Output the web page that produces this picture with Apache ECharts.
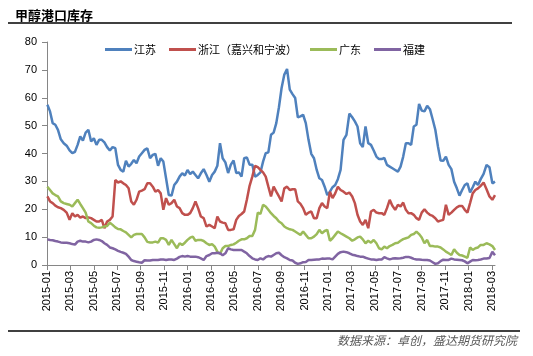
<!DOCTYPE html>
<html>
<head>
<meta charset="utf-8">
<script src="https://cdn.jsdelivr.net/npm/echarts@6/dist/echarts.min.js"></script>
<style>
html,body{margin:0;padding:0;background:#fff;}
#c{width:533px;height:356px;}
</style>
</head>
<body>
<div id="c"></div>
<script>
// Weekly observations, first week ending 2015-01-02
const startDate = '2015-01-02';
const seriesNames = ['江苏', '浙江（嘉兴和宁波）', '广东', '福建'];
const xTickLabels = ['2015-01','2015-03','2015-05','2015-07','2015-09','2015-11','2016-01','2016-03','2016-05','2016-07','2016-09','2016-11','2017-01','2017-03','2017-05','2017-07','2017-09','2017-11','2018-01','2018-03'];
const yTicks = [0,10,20,30,40,50,60,70,80];

const jiangsu = [
57.5,55.1,50.9,50.3,48.5,45.1,43.7,42.8,41.1,40.1,
40.6,43.1,46.1,44.6,47.5,48.5,44.3,45.5,43.1,44.9,
44.9,44.0,42.3,41.1,42.3,41.9,35.9,34.1,33.5,37.4,
35.3,36.3,37.7,36.5,38.9,40.1,41.3,41.9,38.3,39.5,
39.9,35.6,38.3,37.1,31.1,25.1,24.9,28.7,29.9,31.7,
32.9,32.1,34.1,32.6,33.5,32.3,31.1,32.9,34.4,32.3,
29.9,
32.3,33.5,35.6,43.7,38.3,36.8,33.0,36.0,37.5,
33.0,33.2,31.7,38.3,38.6,36.0,36.0,31.7,32.3,33.2,
37.1,40.1,40.4,46.7,47.5,50.9,56.6,63.5,68.3,70.3,
62.9,61.3,59.9,53.0,53.3,53.9,50.9,44.9,39.9,38.3,
34.1,31.1,30.5,28.1,25.1,26.3,27.9,28.7,30.8,34.1,
44.9,46.7,54.3,53.0,51.5,49.7,43.7,42.3,49.7,43.7,
43.1,41.1,38.9,38.0,
38.0,38.4,35.9,35.3,34.7,34.1,
33.5,35.3,38.9,43.7,43.7,43.1,49.7,50.3,57.8,55.4,
55.1,57.1,55.9,52.3,48.5,42.5,37.5,37.4,38.9,35.9,
34.4,29.9,27.5,24.9,26.9,28.7,29.3,26.0,27.9,29.9,
28.7,30.8,32.7,35.9,35.1,29.3,29.9
];
const zhejiang = [
24.6,22.8,22.2,21.3,20.7,20.4,19.8,18.8,16.2,18.6,
17.4,18.0,17.0,17.4,16.8,17.1,16.8,16.2,15.6,15.6,
16.2,13.2,15.6,16.2,17.4,30.5,29.6,30.0,29.3,28.7,
27.5,22.8,21.6,23.4,26.3,26.7,27.2,29.3,29.3,28.1,
26.3,26.9,25.7,19.8,24.0,21.6,22.2,23.4,21.0,20.4,
18.6,18.0,18.0,18.6,20.4,22.8,20.4,17.4,16.8,13.8,
14.4,
13.8,13.2,17.4,15.6,15.2,15.0,12.6,12.6,12.8,
16.2,17.6,18.3,19.2,23.4,28.4,31.7,35.6,35.1,34.1,
33.2,31.7,28.1,24.6,28.1,26.3,24.6,22.8,27.5,28.1,
26.9,27.2,27.2,22.8,21.9,20.4,18.0,18.8,19.2,16.8,
16.8,20.4,22.2,21.0,20.4,26.3,24.0,25.7,28.1,26.9,
26.3,25.5,26.0,24.6,22.2,18.0,15.6,14.4,16.2,13.2,
19.2,19.8,18.8,18.6,
18.6,18.0,20.4,23.4,21.2,19.8,
21.6,21.0,22.4,19.8,18.6,18.6,18.0,16.8,16.2,18.8,
20.0,18.8,18.0,17.6,16.8,15.6,15.9,16.2,21.6,18.0,
18.8,19.8,20.7,21.2,21.2,19.8,18.8,22.2,25.7,26.9,
27.5,28.4,29.6,27.2,24.6,23.4,25.1
];
const guangdong = [
28.1,26.9,25.7,25.1,24.6,22.8,22.2,21.9,21.6,21.0,
22.2,23.4,21.9,20.4,18.8,15.6,15.0,14.1,13.5,13.4,
13.5,13.8,14.0,15.2,14.4,13.5,12.9,12.8,12.2,11.7,
10.8,9.9,10.8,11.1,11.1,11.1,9.9,8.3,8.1,8.1,
8.4,8.0,9.6,9.6,9.0,7.2,9.0,7.5,6.0,7.8,
7.2,8.0,9.0,9.8,10.2,8.7,9.0,9.0,8.6,7.8,
7.2,
7.5,6.6,4.8,4.0,6.0,6.8,6.8,7.2,7.4,
8.0,8.7,9.2,9.2,9.6,10.4,10.4,12.6,18.8,18.3,
21.6,21.0,19.8,18.6,17.6,16.8,15.6,15.0,13.8,13.2,
12.8,12.6,12.0,11.4,10.8,12.0,10.8,9.6,9.6,10.2,
11.1,12.6,11.4,12.2,12.6,8.7,9.6,10.8,12.0,11.4,
10.8,10.2,9.6,8.7,9.2,9.9,10.2,9.2,7.8,8.7,
8.0,9.0,7.8,6.0,
5.6,6.6,6.0,6.8,7.2,7.8,
8.0,8.7,9.3,9.6,9.9,10.8,11.1,12.0,11.1,9.9,
7.8,9.0,6.8,6.8,6.6,6.6,6.3,5.6,4.8,4.2,
3.6,5.6,4.4,3.6,3.4,3.0,2.6,6.3,5.4,6.0,
6.3,7.2,7.2,7.8,7.4,6.8,5.4
];
const fujian = [
9.2,9.0,8.9,8.6,8.4,8.1,8.0,8.0,7.8,7.5,
7.3,8.4,8.7,8.4,8.4,8.1,8.4,9.0,9.2,9.0,
8.6,7.8,7.2,6.3,6.0,5.6,5.1,4.7,4.4,4.0,
3.0,1.8,1.4,1.2,1.0,0.8,1.7,1.6,1.6,1.8,
1.8,1.8,2.0,2.0,1.8,2.0,2.0,1.8,2.3,2.9,
3.2,3.0,3.2,3.0,3.0,3.0,2.8,2.4,1.8,3.2,
3.6,
4.2,4.2,4.4,4.2,3.5,4.2,6.0,5.6,5.4,
5.4,5.4,5.4,4.8,4.2,3.2,2.4,2.0,1.8,2.4,
2.0,2.8,3.2,3.0,3.6,4.2,4.4,3.5,2.8,2.4,
1.8,1.6,0.8,0.4,0.6,1.0,1.1,1.8,1.8,1.9,
2.0,2.0,2.3,2.2,2.3,2.3,2.0,3.0,4.0,4.6,
4.8,4.6,4.2,3.7,3.5,3.2,3.0,3.0,2.6,2.3,
2.0,2.0,1.8,2.0,
2.0,2.8,2.4,2.0,2.3,2.4,
2.3,2.4,2.6,2.9,2.9,2.6,2.2,2.0,2.0,1.9,
1.8,1.8,1.6,1.0,0.4,0.6,1.4,1.9,1.8,1.8,
2.3,2.0,1.9,1.8,1.7,1.3,0.6,1.2,1.8,1.7,
1.8,2.0,2.3,2.3,2.5,4.7,3.5
];
const colors = ['#4F81BD', '#C0504D', '#9BBB59', '#8064A2'];

// weekly dates
const dates = [];
(function(){
  const p = startDate.split('-').map(Number);
  for (let i = 0; i < jiangsu.length; i++) {
    const d = new Date(Date.UTC(p[0], p[1]-1, p[2] + 7*i));
    dates.push(d);
  }
})();
// position on a month scale: months since 2015-01 (+fraction of month)
function monthPos(d) {
  const y = d.getUTCFullYear(), m = d.getUTCMonth(), day = d.getUTCDate();
  const dim = new Date(Date.UTC(y, m+1, 0)).getUTCDate();
  return (y - 2015) * 12 + m + (day - 1) / dim;
}
function labelPos(s) { const p = s.split('-').map(Number); return (p[0]-2015)*12 + p[1]-1; }
const tickVals = xTickLabels.map(labelPos);
const xMax = monthPos(dates[dates.length-1]);

const all = [jiangsu, zhejiang, guangdong, fujian];
const font = 'Liberation Sans, Arial, "Noto Sans CJK SC", sans-serif';
const cjk = '"Noto Sans CJK SC", "Liberation Sans", sans-serif';

const chart = echarts.init(document.getElementById('c'), null, {renderer: 'canvas'});
chart.setOption({
  animation: false,
  backgroundColor: '#ffffff',
  color: colors,
  title: {
    text: '甲醇港口库存',
    left: 10, top: 4,
    textStyle: {fontSize: 13, fontWeight: 'bold', color: '#000', fontFamily: cjk}
  },
  graphic: [
    {type: 'line', shape: {x1: 8, y1: 23, x2: 512, y2: 23}, style: {stroke: '#000', lineWidth: 1.5}},
    {type: 'line', shape: {x1: 8, y1: 331, x2: 520, y2: 331}, style: {stroke: '#000', lineWidth: 1.5}},
    {type: 'text', right: 16, top: 334, style: {text: '数据来源：卓创，盛达期货研究院', fill: '#595959', fontSize: 12, fontStyle: 'italic', fontFamily: cjk}}
  ],
  legend: {
    left: 100, top: 39,
    itemWidth: 27, itemHeight: 3, itemGap: 13,
    icon: 'rect',
    textStyle: {fontSize: 11, color: '#000', fontFamily: cjk, padding: [0,0,0,-3]},
    data: seriesNames
  },
  grid: {left: 47, right: 38, top: 42, bottom: 91, containLabel: false},
  xAxis: {
    type: 'value',
    min: 0, max: xMax,
    axisLine: {show: true, lineStyle: {color: '#868686', width: 1}},
    axisTick: {show: true, customValues: tickVals, length: 5, lineStyle: {color: '#868686'}},
    axisLabel: {
      customValues: tickVals,
      rotate: 90, margin: 6,
      fontSize: 11, color: '#000', fontFamily: font,
      formatter: function(v) {
        const y = 2015 + Math.floor(Math.round(v) / 12);
        const m = Math.round(v) % 12 + 1;
        return y + '-' + (m < 10 ? '0' + m : m);
      }
    },
    splitLine: {show: false}
  },
  yAxis: {
    type: 'value',
    min: yTicks[0], max: yTicks[yTicks.length-1], interval: 10,
    axisLine: {show: true, lineStyle: {color: '#868686', width: 1}},
    axisTick: {show: true, length: 5, lineStyle: {color: '#868686'}},
    axisLabel: {fontSize: 11, color: '#000', fontFamily: font, margin: 10},
    splitLine: {show: false}
  },
  series: all.map(function(arr, k) {
    return {
      name: seriesNames[k],
      type: 'line',
      showSymbol: false,
      symbol: 'none',
      lineStyle: {width: 2.5, color: colors[k]},
      itemStyle: {color: colors[k]},
      data: arr.map(function(v, i) { return [monthPos(dates[i]), v]; })
    };
  })
});
</script>
</body>
</html>
